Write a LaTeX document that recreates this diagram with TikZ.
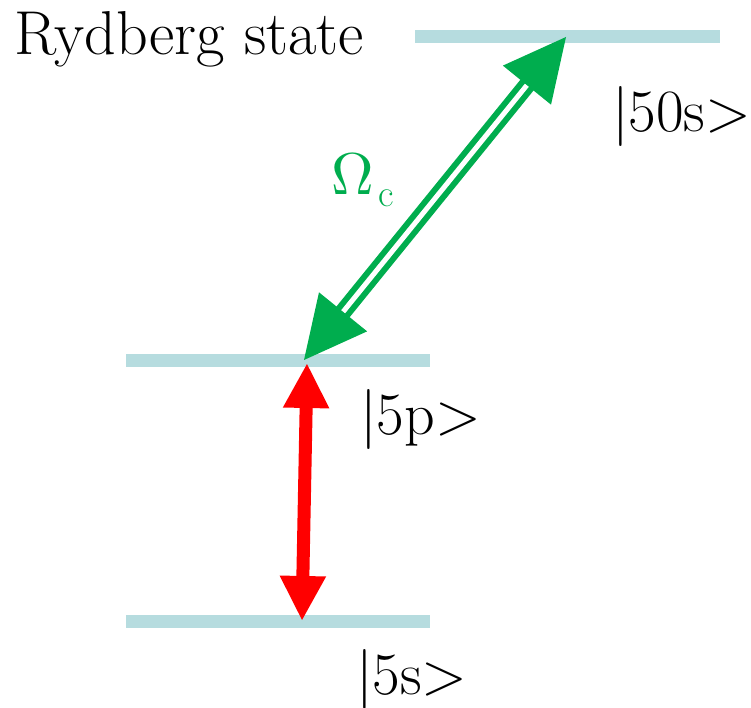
\documentclass[tikz,border=0pt]{standalone}
\usepackage{graphicx}
\usetikzlibrary{calc,arrows.meta}
\definecolor{levelc}{RGB}{182,220,223}
\definecolor{greenc}{RGB}{0,173,78}
\definecolor{redc}{RGB}{255,0,0}
\tikzset{
  level/.style={draw=levelc,line width=13pt},
  lbl/.style={anchor=base west,inner sep=0pt,font=\rmfamily\fontsize{60}{66}\selectfont},
  headg/.style={fill=greenc,draw=none},
}
\begin{document}
\begin{tikzpicture}[x=1pt,y=1pt]
\useasboundingbox (0,0) rectangle (751,708);
% levels
\coordinate (tA) at (415,671); \coordinate (tB) at (720,671);
\coordinate (mA) at (126,347); \coordinate (mB) at (430,347);
\coordinate (bA) at (126,86);  \coordinate (bB) at (430,86);
\draw[level] (tA) -- (tB);
\draw[level] (mA) -- (mB);
\draw[level] (bA) -- (bB);
% labels
\node[lbl,font=\rmfamily\fontsize{62}{66}\selectfont] (ryd) at (14,653) {Rydberg state};
\node[lbl] (k50) at (612,576) {|50s>};
\node[lbl] (k5p) at (360,273) {|5p>};
\node[lbl] (k5s) at (356,13) {|5s>};
\node[lbl,text=greenc] (om) at (331,513) {\scalebox{5.9}{\normalsize$\Omega$}};
\node[anchor=base west,inner sep=0pt,text=greenc,font=\rmfamily\fontsize{38}{42}\selectfont] (omc) at (378,501) {c};
% green double arrow
\coordinate (gA) at (304,348);
\coordinate (gB) at (566,671);
\coordinate (gAb) at ($(gA)!62pt!(gB)$);
\coordinate (gBb) at ($(gB)!62pt!(gA)$);
\draw[greenc,line width=6pt,double=white,double distance=5pt] ($(gA)!55pt!(gB)$) -- ($(gB)!55pt!(gA)$);
\fill[headg] (gA) -- ($(gAb)!31pt!90:(gB)$) -- ($(gAb)!31pt!-90:(gB)$) -- cycle;
\fill[headg] (gB) -- ($(gBb)!31pt!90:(gA)$) -- ($(gBb)!31pt!-90:(gA)$) -- cycle;
% red arrow
\coordinate (rA) at (307,345);
\coordinate (rB) at (302,87);
\draw[redc,line width=13pt,{Triangle[length=45pt,width=43pt]}-{Triangle[length=45pt,width=43pt]}] (rA) -- (rB);
\end{tikzpicture}
\end{document}
